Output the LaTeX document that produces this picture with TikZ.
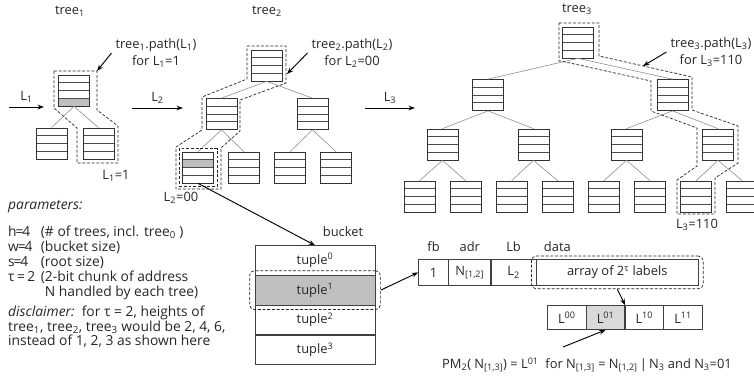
\documentclass[tikz,border=0pt]{standalone}
\usepackage{fontspec}
\setmainfont{Open Sans}
\usetikzlibrary{matrix,backgrounds,fit,arrows.meta}

\definecolor{slotgray}{HTML}{BFBFBF}
\definecolor{cellgray}{HTML}{D9D9D9}
\newcommand\tighteq{\kern-1pt=\kern-1pt}

\begin{document}
\begin{tikzpicture}[x=0.3mm, y=-0.3mm, font=\fontsize{11}{12.4}\selectfont, text=black!85,
    >={Stealth[length=5.5pt,width=4pt]},
    bkt/.style={draw=black!80, line width=0.6pt, minimum width=9.3mm, minimum height=9.3mm, inner sep=0pt,
      path picture={
        \fill[slotgray] ([yshift={-(#1-1)*2.325mm}]path picture bounding box.north west) rectangle ([yshift={-#1*2.325mm}]path picture bounding box.north east);
        \foreach \r in {1,2,3}
          \draw[black!70, line width=0.6pt] ([yshift=-\r*2.325mm]path picture bounding box.north west) -- ([yshift=-\r*2.325mm]path picture bounding box.north east);}},
    bkt/.default=0,
    branch/.style={draw=black!45, line width=0.5pt},
    outline/.style={draw=black!85, line width=0.6pt, dash pattern=on 2.5pt off 1.5pt},
    pathlabel/.style={align=center, font=\fontsize{11}{15}\selectfont},
    notes/.style={anchor=north west, inner sep=0pt, font=\fontsize{11.8}{12.4}\selectfont},
    link/.style={->, draw=black, line width=0.8pt},
    slotcol/.style={matrix of nodes, inner sep=0pt, row sep=-\pgflinewidth,
      nodes={draw=black!75, line width=0.6pt, minimum width=36mm, minimum height=8.85mm, inner sep=0pt, anchor=center},
      row 2/.style={nodes={fill=slotgray}}},
    tuplerow/.style={matrix of nodes, inner sep=0pt, column sep=-\pgflinewidth, row sep=0mm,
      nodes={draw=black!75, line width=0.6pt, minimum height=7.8mm, inner sep=0pt, anchor=center},
      row 1/.style={nodes={draw=none, minimum height=7.2mm}},
      column 1/.style={nodes={minimum width=9mm}},
      column 2/.style={nodes={minimum width=12.6mm}},
      column 3/.style={nodes={minimum width=13.5mm}},
      column 4/.style={nodes={minimum width=48.6mm}},
      row 1 column 4/.style={nodes={text width=44mm, align=left}}},
    labrow/.style={matrix of nodes, inner sep=0pt, column sep=-\pgflinewidth,
      nodes={draw=black!75, line width=0.6pt, minimum width=11.55mm, minimum height=7.2mm, inner sep=0pt, anchor=center},
      column 2/.style={nodes={fill=cellgray}}}]

    \useasboundingbox (0,0) rectangle (754,375);

    % tree 1
    \node (t1name) at (70,11) {tree\textsubscript{1}};
    \node[bkt=4] (t1r) at (74,90.5) {};
    \node[bkt] (t1b0) at (51.5,143.5) {};
    \node[bkt] (t1b1) at (98.5,143.5) {};
    \foreach \c in {t1b0,t1b1}
      \draw[branch] (t1r.south) -- (\c.north);
    \draw[outline] (54,71) -- (97,71) -- (97,110) -- (118,126) -- (118,163) -- (77,163) -- (77,128) -- (54,108) -- cycle;
    \node[pathlabel] (t1path) at (156,53) {tree\textsubscript{1}.path(L\textsubscript{1})\\for L\textsubscript{1}=1};
    \coordinate (t1hook) at (97,71);
    \draw[link] (t1path.west) -- (t1hook);
    \node (t1leaf) at (116,176) {L\textsubscript{1}=1};
    \coordinate (l1a) at (9,107);
    \coordinate (l1b) at (44,107);
    \draw[link] (l1a) -- node[above] {L\textsubscript{1}} (l1b);

    % tree 2
    \node (t2name) at (267,11) {tree\textsubscript{2}};
    \node[bkt] (t2r) at (266.5,65.5) {};
    \node[bkt] (t2a0) at (221.5,114) {};
    \node[bkt] (t2a1) at (312.5,114) {};
    \node[bkt=2] (t2c0) at (198,167.5) {};
    \node[bkt] (t2c1) at (244,167.5) {};
    \node[bkt] (t2c2) at (290,167.5) {};
    \node[bkt] (t2c3) at (336,167.5) {};
    \foreach \p/\c in {t2r/t2a0, t2r/t2a1, t2a0/t2c0, t2a0/t2c1, t2a1/t2c2, t2a1/t2c3}
      \draw[branch] (\p.south) -- (\c.north);
    \draw[outline] (247,46) -- (286,46) -- (286,83) -- (240,100) -- (240,131) -- (221,148) -- (221,189) -- (176,189) -- (176,147) -- (202,130) -- (202,97) -- (247,79) -- cycle;
    \node[outline, fit=(t2c0), inner sep=0.9mm] (t2hit) {};
    \node[pathlabel] (t2path) at (352,53) {tree\textsubscript{2}.path(L\textsubscript{2})\\for L\textsubscript{2}=00};
    \coordinate (t2hook) at (287,74);
    \draw[link] (t2path.west) -- (t2hook);
    \node (t2leaf) at (181,198) {L\textsubscript{2}=00};
    \coordinate (l2a) at (132,108);
    \coordinate (l2b) at (183,108);
    \draw[link] (l2a) -- node[above] {L\textsubscript{2}} (l2b);

    % tree 3
    \node (t3name) at (577,9) {tree\textsubscript{3}};
    \node[bkt] (t3r) at (578,42.5) {};
    \node[bkt] (t3a0) at (488,95) {};
    \node[bkt] (t3a1) at (672.5,95) {};
    \foreach \i/\x in {0/442.5, 1/533.5, 2/626.5, 3/718}
      \node[bkt] (t3b\i) at (\x,144.5) {};
    \foreach \i in {0,...,7}
      \node[bkt] (t3c\i) at (419.5+46.1*\i,196.5) {};
    \foreach \p/\c in {t3r/t3a0, t3r/t3a1, t3a0/t3b0, t3a0/t3b1, t3a1/t3b2, t3a1/t3b3,
        t3b0/t3c0, t3b0/t3c1, t3b1/t3c2, t3b1/t3c3, t3b2/t3c4, t3b2/t3c5, t3b3/t3c6, t3b3/t3c7}
      \draw[branch] (\p.south) -- (\c.north);
    \draw[outline] (559,23) -- (599,23) -- (599,56) -- (692,77) -- (692,110) -- (738,126) -- (738,163) -- (715,178) -- (715,214) -- (677,214) -- (677,180) -- (697,166) -- (697,128) -- (651,111) -- (651,81) -- (561,61) -- (559,61) -- cycle;
    \node[pathlabel] (t3path) at (711,52) {tree\textsubscript{3}.path(L\textsubscript{3})\\for L\textsubscript{3}=110};
    \coordinate (t3hook) at (643,66);
    \draw[link] (t3path.west) -- (t3hook);
    \node (t3leaf) at (697,225) {L\textsubscript{3}=110};
    \coordinate (l3a) at (365,108);
    \coordinate (l3b) at (415,108);
    \draw[link] (l3a) -- node[above] {L\textsubscript{3}} (l3b);

    % parameters
    \node[notes] (params) at (8,200) {\textit{parameters:}};
    \node[notes] (paramtab) at (8,226) {\begin{tabular}{@{}p{9.8mm}@{}l@{}}
      h\tighteq4 & (\# of trees, incl. tree\textsubscript{0} )\\
      w\tighteq4 & (bucket size)\\
      s\tighteq4 & (root size)\\
      τ\,=\,2 & (2-bit chunk of address\\
          & \phantom{(}N handled by each tree)
      \end{tabular}};
    \node[notes, align=left] (disclaim) at (8,306) {\textit{disclaimer:}\ \ for τ = 2, heights of\\
      tree\textsubscript{1}, tree\textsubscript{2}, tree\textsubscript{3} would be 2, 4, 6,\\
      instead of 1, 2, 3 as shown here};

    % bucket
    \matrix[slotcol] (bucket) at (315,305) {
      tuple\textsuperscript{0} \\
      tuple\textsuperscript{1} \\
      tuple\textsuperscript{2} \\
      tuple\textsuperscript{3} \\};
    \node (bktname) at (343,232) {bucket};
    \draw[link] (t2c0.south) -- (bucket-1-1.north);
    \node[outline, rounded corners=4pt, fit=(bucket-2-1), inner xsep=1.5mm, inner ysep=1.3mm] (tup1) {};

    % tuple
    \matrix[tuplerow, anchor=south west] (rec) at (418,286) {
      fb & adr & Lb & data \\
      1 & N\textsubscript{[1,2]} & L\textsubscript{2} & array of 2\textsuperscript{τ} labels \\};
    \node[outline, rounded corners=4pt, fit=(rec-2-4), inner xsep=1.35mm, inner ysep=0.9mm] (datafit) {};
    \draw[link] (tup1.east) -- (rec-2-1.west);

    % labels
    \matrix[labrow, anchor=north west] (lab) at (547,305) {
      L\textsuperscript{00} & L\textsuperscript{01} & L\textsuperscript{10} & L\textsuperscript{11} \\};
    \draw[link] (datafit.south) -- (lab-1-2.north east);
    \node (pm) at (587,365) {PM\textsubscript{2}( N\textsubscript{[1,3]}) = L\textsuperscript{01}\ \ for N\textsubscript{[1,3]} = N\textsubscript{[1,2]}\,|\,N\textsubscript{3} and N\textsubscript{3}=01};
    \coordinate (pmfoot) at (563,347);
    \draw[link] (pmfoot) -- (lab-1-2.south);
    %
\end{tikzpicture}
\end{document}
